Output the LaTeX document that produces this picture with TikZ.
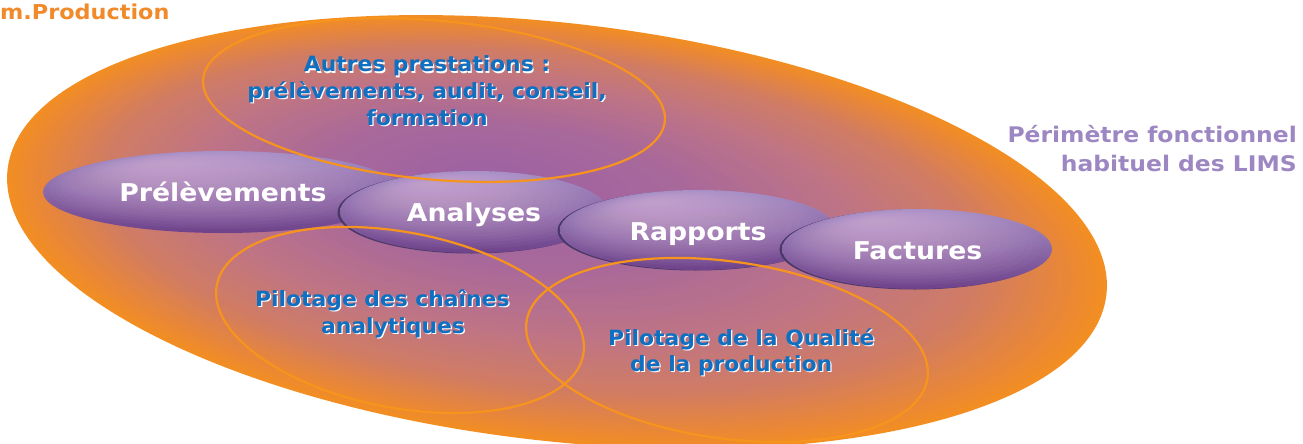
\documentclass[tikz,border=0pt]{standalone}
\usepackage{fontspec}
\usetikzlibrary{shapes.geometric}
\newfontfamily\wfont[FakeStretch=1.09]{DejaVu Sans}
\newfontfamily\bfont[FakeStretch=1.04]{DejaVu Sans}
\definecolor{bgA}{HTML}{9E62A4}
\definecolor{bgB}{HTML}{A8689A}
\definecolor{bgC}{HTML}{BE7486}
\definecolor{bgD}{HTML}{D07C64}
\definecolor{bgE}{HTML}{E8863A}
\definecolor{bgF}{HTML}{F38E22}
\definecolor{pTop}{HTML}{A890C6}
\definecolor{pMid}{HTML}{9478B6}
\definecolor{pBot}{HTML}{6E428A}
\definecolor{glowc}{HTML}{E4BEE0}
\definecolor{shadowc}{HTML}{4A3868}
\definecolor{ringc}{HTML}{F7941D}
\definecolor{bluec}{HTML}{0F6FC0}
\definecolor{orangeT}{HTML}{F08A2A}
\definecolor{lavT}{HTML}{9D87C3}
\newcommand\shtx[1]{\rlap{\kern1.2pt\raisebox{-1.2pt}{\textcolor{white}{#1}}}#1}
\newcommand\pball[5]{%
  \node[pbase, minimum width={2*#4}, minimum height={2*#5}] (#1) at (#2,#3) {};
  \foreach \k in {0,...,19}{
    \pgfmathsetmacro\s{0.94-0.044*\k}
    \pgfmathsetmacro\gx{#2-0.35*#4+\s*0.35*#4}
    \pgfmathsetmacro\gy{#3-0.7*#5+\s*0.7*#5}
    \pgfmathsetmacro\gra{\s*#4}
    \pgfmathsetmacro\grb{\s*#5}
    \fill[glowc, opacity=0.045] (\gx,\gy) ellipse [x radius=\gra, y radius=\grb];
  }}
\begin{document}
\begin{tikzpicture}[x=1pt,y=-1pt,
  bigell/.style={ellipse, inner sep=0, minimum width=1106pt, minimum height=418pt, rotate=-6.5, fill=bgF},
  ring/.style={ellipse, inner sep=0, draw=ringc, line width=2.2pt},
  pbase/.style={ellipse, inner sep=0, top color=pTop, middle color=pMid, bottom color=pBot},
  pshadow/.style={ellipse, inner sep=0, fill=shadowc},
  lbl/.style={text=white, font=\wfont\bfseries\fontsize{24.5}{29}\selectfont, inner sep=0, anchor=base},
  btxt/.style={text=bluec, font=\bfont\bfseries\fontsize{21}{26.6}\selectfont, inner sep=0}
]
\useasboundingbox (0,0) rectangle (1303,444);
% outer perimeter with a path gradient (orange rim, purple focus)
\node[bigell] (perim) at (557,232) {};
\foreach \ta/\tb/\ca/\cb in {0/0.07/bgF/bgE, 0.07/0.2/bgE/bgD, 0.2/0.4/bgD/bgC, 0.4/0.65/bgC/bgB, 0.65/1/bgB/bgA}{
  \foreach \i in {1,...,12}{
    \pgfmathsetmacro\t{\ta+(\tb-\ta)*\i/12}
    \pgfmathsetmacro\p{100*\i/12}
    \pgfmathsetmacro\cx{485+(1-\t)*(557-485)}
    \pgfmathsetmacro\cy{175+(1-\t)*(232-175)}
    \pgfmathsetmacro\ra{553*(1-\t)+0.01}
    \pgfmathsetmacro\rb{209*(1-\t)+0.01}
    \fill[\cb!\p!\ca, rotate around={-6.5:(\cx,\cy)}] (\cx,\cy) ellipse [x radius=\ra, y radius=\rb];
  }
}
% process ellipses
\pball{ePre}{223}{192}{180}{41}
\node[pshadow, minimum width=268pt, minimum height=82pt] (sAna) at (471.5,212.5) {};
\pball{eAna}{474}{212}{134}{41}
\node[pshadow, minimum width=276pt, minimum height=80pt] (sRap) at (695.5,230.5) {};
\pball{eRap}{698}{230}{138}{40}
\node[pshadow, minimum width=270pt, minimum height=80pt] (sFac) at (914.5,249.5) {};
\pball{eFac}{917}{249}{135}{40}
% rings
\node[ring, minimum width=463.6pt, minimum height=159pt, rotate=-5.2] (rTop) at (434,100) {};
\node[ring, minimum width=373pt, minimum height=175.6pt, rotate=-10.8] (rLeft) at (400,320) {};
\node[ring, minimum width=405pt, minimum height=177pt, rotate=-8] (rRight) at (727,350) {};
% labels
\node[lbl] (tPre) at (223,201.7) {Prélèvements};
\node[lbl] (tAna) at (474,221) {Analyses};
\node[lbl] (tRap) at (698,240) {Rapports};
\node[lbl] (tFac) at (917.5,259.3) {Factures};
\node[btxt, align=center, anchor=base] (tAutres) at (427,125) {\shtx{Autres prestations :}\\\shtx{prélèvements, audit, conseil,}\\\shtx{formation}};
\node[btxt, align=left, anchor=base west] (tChaines) at (255,333.3) {\shtx{Pilotage des chaînes}\\\hspace*{66pt}\shtx{analytiques}};
\node[btxt, align=left, anchor=base west] (tQual) at (608,371.7) {\shtx{Pilotage de la Qualité}\\\hspace*{22pt}\shtx{de la production}};
\node[anchor=base west, text=orangeT, font=\wfont\bfseries\fontsize{20.5}{24}\selectfont, inner sep=0] (tProd) at (0,20) {m.Production};
\node[anchor=base east, align=right, text=lavT, font=\wfont\bfseries\fontsize{21.5}{29.4}\selectfont, inner sep=0] (tPeri) at (1297,171.7) {Périmètre fonctionnel\\habituel des LIMS};
\end{tikzpicture}
\end{document}
